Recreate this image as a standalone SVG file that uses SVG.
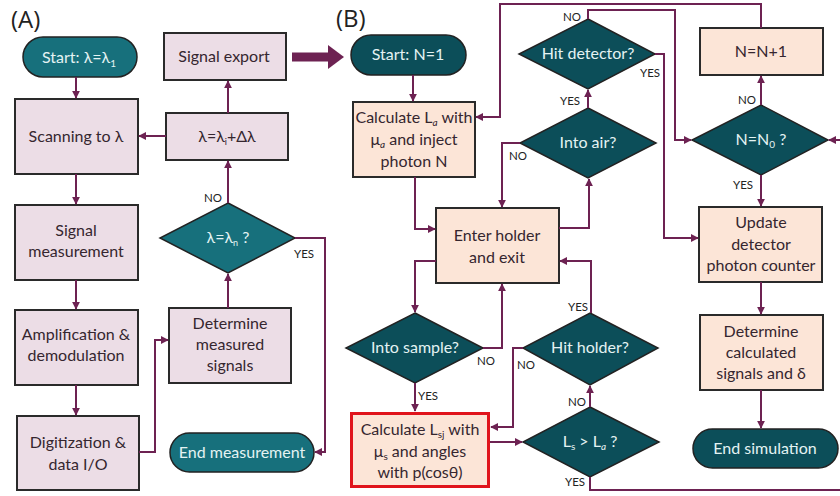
<svg xmlns="http://www.w3.org/2000/svg" width="840" height="496" viewBox="0 0 840 496">
<defs>
<marker id="ah" viewBox="0 0 10 10" refX="9" refY="5" markerWidth="8" markerHeight="8" markerUnits="userSpaceOnUse" orient="auto"><path d="M0,0 L10,5 L0,10 z" fill="#6d2252"/></marker>
</defs>
<style>
.t{font-family:Lato,"Open Sans","Liberation Sans",sans-serif;font-size:16px;fill:#35262f;text-anchor:middle}
.w{font-family:Lato,"Open Sans","Liberation Sans",sans-serif;font-size:16px;fill:#e4f3f3;text-anchor:middle}
.l{font-family:Lato,"Open Sans","Liberation Sans",sans-serif;font-size:11.5px;fill:#222;text-anchor:middle}
.h{font-family:"Open Sans","Liberation Sans",Arial,sans-serif;font-size:24px;fill:#222}
.ba{fill:#ecdde6;stroke:#2a2a2a;stroke-width:2}
.bb{fill:#fce5d7;stroke:#2a2a2a;stroke-width:2}
.ta{fill:#17707c;stroke:#222;stroke-width:1.5}
.tb{fill:#0c4e59;stroke:#222;stroke-width:1.5}
.c{fill:none;stroke:#6d2252;stroke-width:2;marker-end:url(#ah)}
.n{fill:none;stroke:#6d2252;stroke-width:2}
</style>
<text class="h" x="11" y="28">(A)</text>
<text class="h" x="336" y="27">(B)</text>

<g id="a-start"><rect class="ta" x="23" y="37" width="114" height="40" rx="20"/><text class="w" x="79" y="63">Start: λ=λ<tspan font-size="10" dy="4">1</tspan></text></g>
<g id="a-scan"><rect class="ba" x="15" y="99" width="123" height="75"/><text class="t" x="76" y="142">Scanning to λ</text></g>
<g id="a-meas"><rect class="ba" x="15" y="205" width="123" height="75"/><text class="t" x="76" y="236">Signal</text><text class="t" x="76" y="257">measurement</text></g>
<g id="a-amp"><rect class="ba" x="15" y="310" width="123" height="75"/><text class="t" x="76" y="340">Amplification &amp;</text><text class="t" x="76" y="361">demodulation</text></g>
<g id="a-dig"><rect class="ba" x="17" y="416" width="122" height="74"/><text class="t" x="78" y="448">Digitization &amp;</text><text class="t" x="78" y="470">data I/O</text></g>
<g id="a-det"><rect class="ba" x="169" y="308" width="122" height="75"/><text class="t" x="230" y="329">Determine</text><text class="t" x="230" y="350">measured</text><text class="t" x="230" y="371">signals</text></g>
<g id="a-dec"><polygon class="ta" points="228,203 295,238 228,273 160,238"/><text class="w" x="228" y="243" font-size="14">λ=λ<tspan font-size="9" dy="3">n</tspan><tspan dy="-3"> ?</tspan></text></g>
<g id="a-inc"><rect class="ba" x="166" y="113" width="122" height="47"/><text class="t" x="227" y="142">λ=λ<tspan font-size="9" dy="3">i</tspan><tspan dy="-3">+Δλ</tspan></text></g>
<g id="a-exp"><rect class="ba" x="164" y="33" width="122" height="47"/><text class="t" x="224" y="62">Signal export</text></g>
<g id="a-end"><rect class="ta" x="170" y="433" width="144" height="39" rx="19.5"/><text class="w" x="242" y="458">End measurement</text></g>

<g id="b-start"><rect class="tb" x="351" y="35" width="115" height="40" rx="20"/><text class="w" x="408" y="60">Start:  N=1</text></g>
<g id="b-calc"><rect class="bb" x="353" y="102" width="122" height="75"/><text class="t" x="414" y="123">Calculate L<tspan font-size="10" font-style="italic" dy="3">a</tspan><tspan dy="-3"> with</tspan></text><text class="t" x="414" y="145">μ<tspan font-size="10" font-style="italic" dy="3">a</tspan><tspan dy="-3"> and inject</tspan></text><text class="t" x="414" y="167">photon N</text></g>
<g id="b-enter"><rect class="bb" x="436" y="208" width="123" height="75"/><text class="t" x="497" y="241">Enter holder</text><text class="t" x="497" y="263">and exit</text></g>
<g id="b-air"><polygon class="tb" points="588,108 656,143 588,178 520,143"/><text class="w" x="588" y="148">Into air?</text></g>
<g id="b-hitdet"><polygon class="tb" points="588,19 655,54 588,89 519,54"/><text class="w" x="588" y="59">Hit detector?</text></g>
<g id="b-inc"><rect class="bb" x="700" y="28" width="123" height="47"/><text class="t" x="761" y="57">N=N+1</text></g>
<g id="b-n0"><polygon class="tb" points="761,105 828,140 761,175 692,140"/><text class="w" x="761" y="145">N=N<tspan font-size="10" dy="3">0</tspan><tspan dy="-3"> ?</tspan></text></g>
<g id="b-upd"><rect class="bb" x="699" y="207" width="123" height="75"/><text class="t" x="761" y="228">Update</text><text class="t" x="761" y="250">detector</text><text class="t" x="761" y="271">photon counter</text></g>
<g id="b-detc"><rect class="bb" x="700" y="315" width="123" height="75"/><text class="t" x="761" y="337">Determine</text><text class="t" x="761" y="358">calculated</text><text class="t" x="761" y="379">signals and δ</text></g>
<g id="b-end"><rect class="tb" x="693" y="429" width="145" height="39" rx="19.5"/><text class="w" x="765" y="454">End simulation</text></g>
<g id="b-sample"><polygon class="tb" points="415,313 483,348 415,383 346,348"/><text class="w" x="415" y="353">Into sample?</text></g>
<g id="b-lsj"><rect x="351.5" y="413.5" width="137" height="73" fill="#fce5d7" stroke="#e0141c" stroke-width="3"/><text class="t" x="420" y="435">Calculate L<tspan font-size="10" dy="3">sj</tspan><tspan dy="-3"> with</tspan></text><text class="t" x="420" y="457">μ<tspan font-size="10" dy="3">s</tspan><tspan dy="-3"> and angles</tspan></text><text class="t" x="420" y="478">with p(cosθ)</text></g>
<g id="b-hithold"><polygon class="tb" points="590,313 658,348 590,385 523,348"/><text class="w" x="590" y="353">Hit holder?</text></g>
<g id="b-ls"><polygon class="tb" points="590,407 659,442 590,477 523,442"/><text class="w" x="590" y="447">L<tspan font-size="10" dy="3">s</tspan><tspan dy="-3"> &gt; L</tspan><tspan font-size="10" font-style="italic" dy="3">a</tspan><tspan dy="-3"> ?</tspan></text></g>

<g id="connectors">
<path class="c" d="M76,77 V98"/>
<path class="c" d="M76,174 V204"/>
<path class="c" d="M76,280 V309"/>
<path class="c" d="M76,385 V415"/>
<path class="c" d="M139,452 H155 V340 H168"/>
<path class="c" d="M228,308 V274"/>
<path class="c" d="M228,203 V161"/>
<path class="c" d="M166,136 H139"/>
<path class="c" d="M228,113 V81"/>
<path class="c" d="M295,238 H325 V452 H315"/>
<path d="M292,57 H330" stroke="#6d2252" stroke-width="9" fill="none"/>
<polygon points="328,45 344,57 328,69" fill="#6d2252"/>

<path class="c" d="M413,75 V101"/>
<path class="c" d="M415,177 V229 H435"/>
<path class="c" d="M559,228 H589 V179"/>
<path class="c" d="M520,143 H502 V207"/>
<path class="c" d="M588,108 V90"/>
<path class="c" d="M588,19 V10 H675 V140 H691"/>
<path class="c" d="M655,54 H664 V238 H698"/>
<path class="c" d="M761,105 V76"/>
<path class="c" d="M761,28 V4 H500 V117 H476"/>
<path class="c" d="M840,140 H829"/>
<path class="c" d="M761,175 V206"/>
<path class="c" d="M761,282 V314"/>
<path class="c" d="M761,390 V428"/>
<path class="c" d="M436,261 H415 V312"/>
<path class="c" d="M483,348 H502 V284"/>
<path class="c" d="M415,383 V411"/>
<path class="c" d="M490,442 H522"/>
<path class="c" d="M590,407 V386"/>
<path class="c" d="M591,313 V261 H560"/>
<path class="c" d="M523,348 H513 V427 H491"/>
<path class="n" d="M590,477 V490 H840"/>
</g>

<g id="labels">
<text class="l" x="213" y="202">NO</text>
<text class="l" x="304" y="258">YES</text>
<text class="l" x="572" y="21">NO</text>
<text class="l" x="650" y="77">YES</text>
<text class="l" x="570" y="105">YES</text>
<text class="l" x="518" y="160">NO</text>
<text class="l" x="747" y="104">NO</text>
<text class="l" x="743" y="189">YES</text>
<text class="l" x="486" y="365">NO</text>
<text class="l" x="428" y="400">YES</text>
<text class="l" x="578" y="311">YES</text>
<text class="l" x="526" y="369">NO</text>
<text class="l" x="577" y="406">NO</text>
<text class="l" x="575" y="486">YES</text>
</g>
</svg>
